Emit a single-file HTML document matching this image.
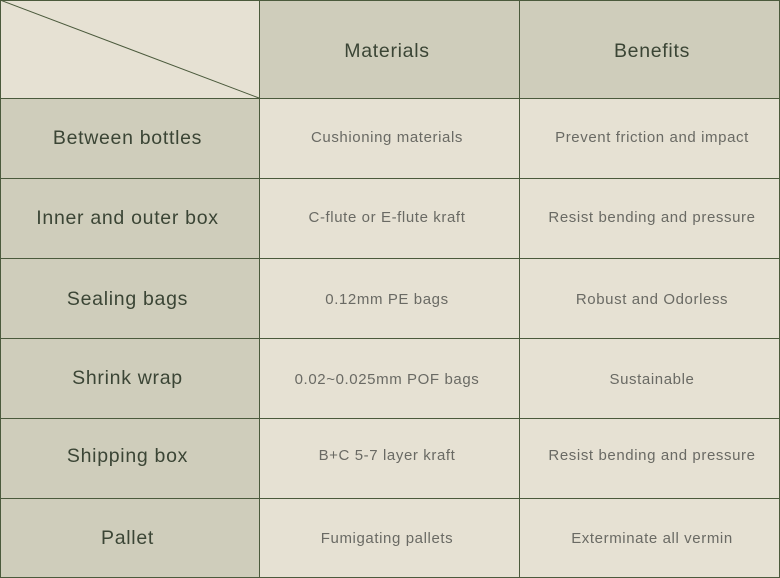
<!DOCTYPE html>
<html><head><style>
body{margin:0;width:780px;height:578px;overflow:hidden;background:#e6e1d3;font-family:"Liberation Sans",sans-serif;}
.c{position:absolute;display:flex;align-items:center;justify-content:center;box-sizing:border-box;}
.d{background:#cfcdbb;color:#3b4535;font-size:19.5px;letter-spacing:0.7px;}
.l{background:#e6e1d3;color:#6a6a64;font-size:15px;letter-spacing:0.6px;}
.h{position:absolute;background:#4b5a3c;}
.fc{padding-right:4px}
</style></head><body>
<div class="c l" style="left:0;top:0;width:259px;height:98px"></div>
<div class="c d" style="left:259px;top:0;width:260px;height:98px;padding-top:5px;padding-right:4px">Materials</div>
<div class="c d" style="left:519px;top:0;width:261px;height:98px;padding-top:5px;padding-left:5px">Benefits</div>

<div class="c d fc" style="left:0;top:98px;width:259px;height:80px">Between bottles</div>
<div class="c d fc" style="left:0;top:178px;width:259px;height:80px">Inner and outer box</div>
<div class="c d fc" style="left:0;top:258px;width:259px;height:80px;padding-top:2px">Sealing bags</div>
<div class="c d fc" style="left:0;top:338px;width:259px;height:80px">Shrink wrap</div>
<div class="c d fc" style="left:0;top:418px;width:259px;height:80px;padding-bottom:3px">Shipping box</div>
<div class="c d fc" style="left:0;top:498px;width:259px;height:80px">Pallet</div>

<div class="c l" style="left:259px;top:98px;width:260px;height:80px;padding:0 4px 2px 0">Cushioning materials</div>
<div class="c l" style="left:259px;top:178px;width:260px;height:80px;padding:0 4px 2px 0">C-flute or E-flute kraft</div>
<div class="c l" style="left:259px;top:258px;width:260px;height:80px;padding:2px 4px 0 0">0.12mm PE bags</div>
<div class="c l" style="left:259px;top:338px;width:260px;height:80px;padding:2px 4px 0 0">0.02~0.025mm POF bags</div>
<div class="c l" style="left:259px;top:418px;width:260px;height:80px;padding:0 4px 6px 0">B+C 5-7 layer kraft</div>
<div class="c l" style="left:259px;top:498px;width:260px;height:80px;padding-right:4px">Fumigating pallets</div>

<div class="c l" style="left:519px;top:98px;width:261px;height:80px;padding:0 0 2px 5px">Prevent friction and impact</div>
<div class="c l" style="left:519px;top:178px;width:261px;height:80px;padding:0 0 2px 5px">Resist bending and pressure</div>
<div class="c l" style="left:519px;top:258px;width:261px;height:80px;padding:2px 0 0 5px">Robust and Odorless</div>
<div class="c l" style="left:519px;top:338px;width:261px;height:80px;padding:2px 0 0 5px">Sustainable</div>
<div class="c l" style="left:519px;top:418px;width:261px;height:80px;padding:0 0 6px 5px">Resist bending and pressure</div>
<div class="c l" style="left:519px;top:498px;width:261px;height:80px;padding-left:5px">Exterminate all vermin</div>

<div class="h" style="left:0;top:0;width:780px;height:1px"></div>
<div class="h" style="left:0;top:577px;width:780px;height:1px"></div>
<div class="h" style="left:0;top:0;width:1px;height:578px"></div>
<div class="h" style="left:779px;top:0;width:1px;height:578px"></div>
<div class="h" style="left:259px;top:0;width:1px;height:578px"></div>
<div class="h" style="left:519px;top:0;width:1px;height:578px"></div>
<div class="h" style="left:0;top:98px;width:780px;height:1px"></div>
<div class="h" style="left:0;top:178px;width:780px;height:1px"></div>
<div class="h" style="left:0;top:258px;width:780px;height:1px"></div>
<div class="h" style="left:0;top:338px;width:780px;height:1px"></div>
<div class="h" style="left:0;top:418px;width:780px;height:1px"></div>
<div class="h" style="left:0;top:498px;width:780px;height:1px"></div>
<svg style="position:absolute;left:0;top:0" width="260" height="99"><line x1="0" y1="0" x2="259" y2="98" stroke="#4b5a3c" stroke-width="1"/></svg>
</body></html>
